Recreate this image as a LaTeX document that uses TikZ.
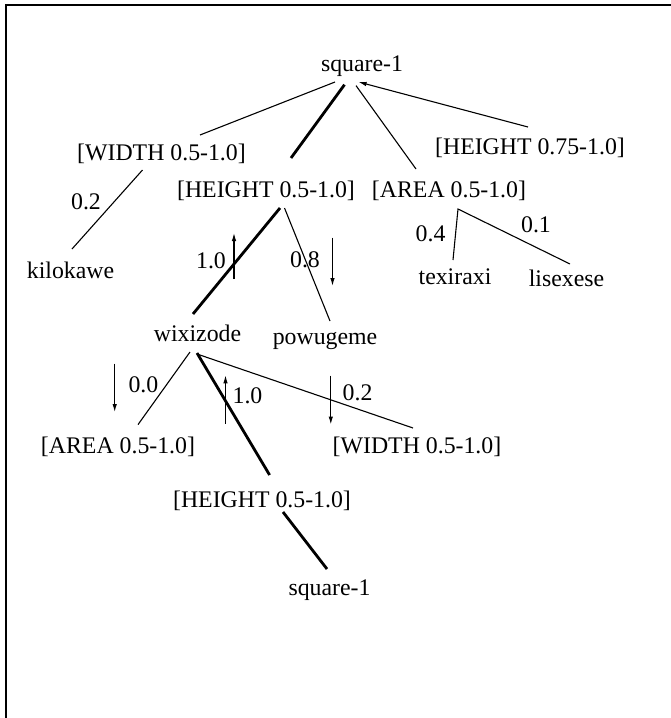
\documentclass[tikz,border=0pt]{standalone}
\usepackage{fontspec}
\setmainfont{Liberation Serif}
\usetikzlibrary{arrows.meta}
\begin{document}
\begin{tikzpicture}[x=1pt,y=-1pt,
  txt/.style={anchor=base,inner sep=0pt,font=\fontsize{23.8}{28}\selectfont},
  thinln/.style={line width=1.1pt},
  thickln/.style={line width=2.8pt},
  tip/.style={line width=1.1pt,-{Latex[length=8pt,width=4.5pt]}}]
\useasboundingbox (0,0) rectangle (671,718);
\draw[line width=2pt] (6,718) -- (6,5) -- (671,5);
% nodes
\node[txt] (sq1) at (362,71) {square-1};
\node[txt] (wd1) at (161.5,160.5) {[WIDTH 0.5-1.0]};
\node[txt] (ht2) at (530,154) {[HEIGHT 0.75-1.0]};
\node[txt] (ht1) at (266,197) {[HEIGHT 0.5-1.0]};
\node[txt] (ar1) at (449,197.5) {[AREA 0.5-1.0]};
\node[txt] (kilo) at (70.5,278) {kilokawe};
\node[txt] (tex) at (455,284.5) {texiraxi};
\node[txt] (lis) at (566.5,286) {lisexese};
\node[txt] (wix) at (197.5,341) {wixizode};
\node[txt] (pow) at (325,344.5) {powugeme};
\node[txt] (ar2) at (118,453.6) {[AREA 0.5-1.0]};
\node[txt] (wd2) at (417,453.6) {[WIDTH 0.5-1.0]};
\node[txt] (ht3) at (262,507) {[HEIGHT 0.5-1.0]};
\node[txt] (sq2) at (329.5,595.6) {square-1};
% labels
\node[txt] (l02a) at (86,209) {0.2};
\node[txt] (l10a) at (211,268) {1.0};
\node[txt] (l08) at (305,267.4) {0.8};
\node[txt] (l04) at (430.6,241.8) {0.4};
\node[txt] (l01) at (536,232.4) {0.1};
\node[txt] (l00) at (143.4,392.8) {0.0};
\node[txt] (l10b) at (247.5,403.5) {1.0};
\node[txt] (l02b) at (357.6,400) {0.2};
% connectors
\draw[thinln] ([shift={(-27,11)}]sq1.base) -- ([shift={(38.5,-25.5)}]wd1.base);
\draw[thickln] ([shift={(-17.5,13.7)}]sq1.base) -- ([shift={(25,-39)}]ht1.base);
\draw[thinln] ([shift={(-6,14.6)}]sq1.base) -- ([shift={(-33,-28.5)}]ar1.base);
\draw[tip] ([shift={(-2,-27)}]ht2.base) -- ([shift={(-3.4,11)}]sq1.base);
\draw[thinln] ([shift={(-19,9.5)}]wd1.base) -- ([shift={(1.5,-29)}]kilo.base);
\draw[thickln] ([shift={(14,11)}]ht1.base) -- ([shift={(-4.5,-27)}]wix.base);
\draw[thinln] ([shift={(18.5,11)}]ht1.base) -- ([shift={(5,-23.5)}]pow.base);
\draw[thinln] ([shift={(-2,-24.5)}]tex.base) -- ([shift={(9,11.5)}]ar1.base) -- ([shift={(3.5,-22)}]lis.base);
\draw[thinln] ([shift={(-7.5,11)}]wix.base) -- ([shift={(20,-29)}]ar2.base);
\draw[thickln] ([shift={(-0.5,12)}]wix.base) -- ([shift={(7.6,-32)}]ht3.base);
\draw[thinln] ([shift={(-0.5,13)}]wix.base) -- ([shift={(-4,-25.6)}]wd2.base);
\draw[thickln] ([shift={(21,5)}]ht3.base) -- ([shift={(-2.5,-26.6)}]sq2.base);
% flow arrows
\coordinate (a1s) at (234,279); \coordinate (a1e) at (234,233);
\coordinate (a2s) at (332.5,237.5); \coordinate (a2e) at (332.5,286);
\coordinate (a3s) at (114.7,363.7); \coordinate (a3e) at (114.7,412);
\coordinate (a4s) at (225.5,423.6); \coordinate (a4e) at (225.5,375.3);
\coordinate (a5s) at (330.8,375.7); \coordinate (a5e) at (330.8,424.5);
\draw[tip] (a1s) -- (a1e);
\draw[tip] (a2s) -- (a2e);
\draw[tip] (a3s) -- (a3e);
\draw[tip] (a4s) -- (a4e);
\draw[tip] (a5s) -- (a5e);
\end{tikzpicture}
\end{document}
